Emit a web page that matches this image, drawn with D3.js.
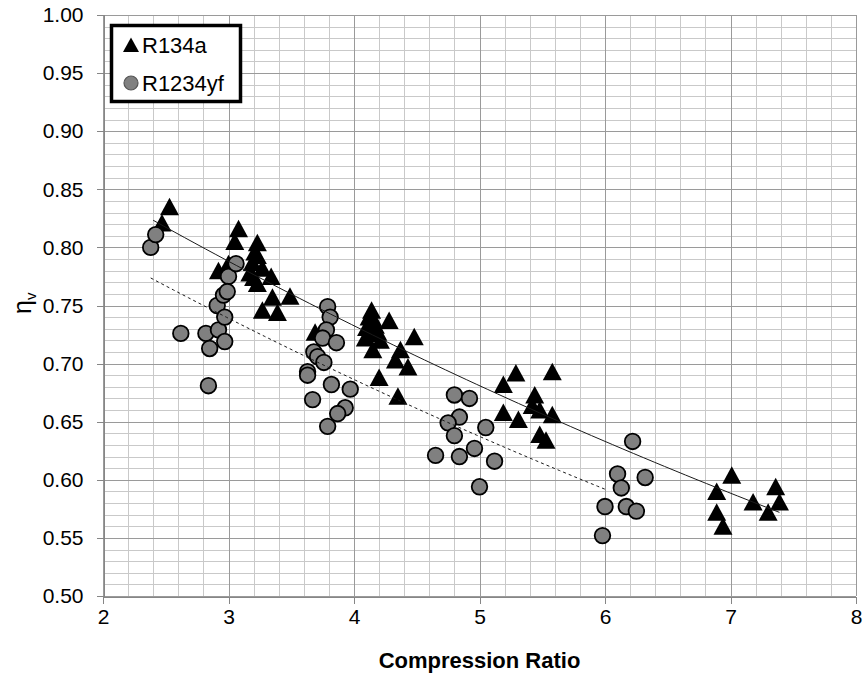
<!DOCTYPE html>
<html>
<head>
<meta charset="utf-8">
<script src="https://cdn.jsdelivr.net/npm/d3@7"></script>
<style>
  body { margin: 0; background: #fff; }
  text { font-family: "Liberation Sans", Arial, sans-serif; fill: #000; }
</style>
</head>
<body>
<svg id="chart" width="867" height="676"></svg>
<script>
// Axis ticks
const xTicks = [2, 3, 4, 5, 6, 7, 8];
const yTicks = [0.50, 0.55, 0.60, 0.65, 0.70, 0.75, 0.80, 0.85, 0.90, 0.95, 1.00];

// Series names
const seriesNames = ["R134a", "R1234yf"];

// R134a: compression ratio vs volumetric efficiency
const r134aX = [2.47, 2.53, 2.92, 3.00, 3.05, 3.08, 3.17, 3.19, 3.21, 3.23, 3.23, 3.20, 3.23, 3.27, 3.34,
  3.35, 3.49, 3.27, 3.39, 3.69, 4.14, 4.12, 4.15, 4.28, 4.10, 4.17, 4.19, 4.09, 4.13, 4.21,
  4.15, 4.37, 4.33, 4.43, 4.20, 4.35, 4.48, 5.19, 5.29, 5.58, 5.44, 5.42, 5.48, 5.58, 5.19,
  5.31, 5.48, 5.53, 7.01, 6.89, 7.36, 7.39, 7.18, 7.30, 6.89, 6.94];
const r134aY = [0.821, 0.835, 0.780, 0.786, 0.805, 0.816, 0.778, 0.787, 0.796, 0.804, 0.793, 0.774, 0.769, 0.782, 0.775,
  0.757, 0.758, 0.746, 0.744, 0.727, 0.746, 0.740, 0.739, 0.737, 0.731, 0.733, 0.727, 0.722, 0.726, 0.720,
  0.712, 0.712, 0.703, 0.697, 0.688, 0.672, 0.723, 0.682, 0.692, 0.693, 0.673, 0.664, 0.660, 0.656, 0.658,
  0.652, 0.639, 0.634, 0.604, 0.590, 0.594, 0.581, 0.581, 0.572, 0.572, 0.560];

// R1234yf: compression ratio vs volumetric efficiency
const r1234yfX = [2.38, 2.42, 2.62, 2.82, 2.85, 2.84, 2.91, 2.92, 2.96, 2.97, 2.97, 3.00, 3.06, 2.99,
  3.79, 3.81, 3.78, 3.75, 3.86, 3.68, 3.71, 3.76, 3.63, 3.63, 3.82, 3.97, 3.67, 3.93, 3.87, 3.79,
  4.80, 4.92, 4.84, 4.75, 4.80, 5.05, 4.65, 4.84, 4.96, 5.12, 5.00,
  6.22, 6.10, 6.32, 6.13, 6.00, 6.17, 6.25, 5.98];
const r1234yfY = [0.800, 0.811, 0.726, 0.726, 0.713, 0.681, 0.750, 0.729, 0.759, 0.740, 0.719, 0.775, 0.786, 0.762,
  0.749, 0.740, 0.729, 0.722, 0.718, 0.710, 0.706, 0.701, 0.693, 0.690, 0.682, 0.678, 0.669, 0.662, 0.657, 0.646,
  0.673, 0.670, 0.654, 0.649, 0.638, 0.645, 0.621, 0.620, 0.627, 0.616, 0.594,
  0.633, 0.605, 0.602, 0.593, 0.577, 0.577, 0.573, 0.552];

// Exponential trend lines y = a * exp(b * x)
const trendA = [0.981, 0.9227];
const trendB = [-0.073, -0.074];
const trendFrom = [2.40, 2.38];
const trendTo = [7.39, 6.00];

const svg = d3.select("#chart");
const x = d3.scaleLinear().domain([2, 8]).range([103, 856]);
const y = d3.scaleLinear().domain([0.5, 1.0]).range([596, 15]);

// Grid: minor lines
const minorX = d3.range(2, 8.0001, 0.2);
const minorY = d3.range(0.5, 1.00001, 0.01);
const grid = svg.append("g").attr("shape-rendering", "crispEdges");
grid.selectAll("line.mx").data(minorX).join("line")
  .attr("x1", d => Math.round(x(d)) + 0.5).attr("x2", d => Math.round(x(d)) + 0.5)
  .attr("y1", y(0.5)).attr("y2", y(1.0))
  .attr("stroke", "#c9c9c9").attr("stroke-width", 1);
grid.selectAll("line.my").data(minorY).join("line")
  .attr("y1", d => Math.round(y(d)) + 0.5).attr("y2", d => Math.round(y(d)) + 0.5)
  .attr("x1", x(2)).attr("x2", x(8))
  .attr("stroke", "#c9c9c9").attr("stroke-width", 1);
// Grid: major lines
grid.selectAll("line.MX").data(xTicks).join("line")
  .attr("x1", d => Math.round(x(d)) + 0.5).attr("x2", d => Math.round(x(d)) + 0.5)
  .attr("y1", y(0.5)).attr("y2", y(1.0))
  .attr("stroke", "#9a9a9a").attr("stroke-width", 1);
grid.selectAll("line.MY").data(yTicks).join("line")
  .attr("y1", d => Math.round(y(d)) + 0.5).attr("y2", d => Math.round(y(d)) + 0.5)
  .attr("x1", x(2)).attr("x2", x(8))
  .attr("stroke", "#9a9a9a").attr("stroke-width", 1);

// Axes
const xAxis = svg.append("g")
  .attr("transform", `translate(0,${Math.round(y(0.5)) + 0.5})`)
  .call(d3.axisBottom(x).tickValues(xTicks).tickFormat(d3.format("d")).tickSize(7).tickPadding(6));
const yAxis = svg.append("g")
  .attr("transform", `translate(${Math.round(x(2)) + 0.5},0)`)
  .call(d3.axisLeft(y).tickValues(yTicks).tickFormat(d3.format(".2f")).tickSize(7).tickPadding(13));
[xAxis, yAxis].forEach(g => {
  g.select(".domain").attr("stroke", "#868686").attr("shape-rendering", "crispEdges");
  g.selectAll(".tick line").attr("stroke", "#868686").attr("shape-rendering", "crispEdges");
  g.selectAll(".tick text").attr("font-size", 21).attr("font-family", "Liberation Sans, Arial, sans-serif").attr("fill", "#000");
});

// Markers
const triPath = "M0,-9L9.5,8.5L-9.5,8.5Z";
svg.append("g").selectAll("path").data(r134aX.map((d, i) => [d, r134aY[i]])).join("path")
  .attr("d", triPath)
  .attr("transform", d => `translate(${x(d[0])},${y(d[1])})`)
  .attr("fill", "#000");

svg.append("g").selectAll("circle").data(r1234yfX.map((d, i) => [d, r1234yfY[i]])).join("circle")
  .attr("cx", d => x(d[0])).attr("cy", d => y(d[1])).attr("r", 7.8)
  .attr("fill", "#808080").attr("stroke", "#000").attr("stroke-width", 1.8);

// Trend lines
const trendLine = d3.line().x(d => x(d[0])).y(d => y(d[1]));
trendA.forEach((a, i) => {
  const pts = d3.range(0, 61).map(k => {
    const xv = trendFrom[i] + (trendTo[i] - trendFrom[i]) * k / 60;
    return [xv, a * Math.exp(trendB[i] * xv)];
  });
  svg.append("path").attr("d", trendLine(pts))
    .attr("fill", "none").attr("stroke", "#1a1a1a").attr("stroke-width", 1)
    .attr("stroke-dasharray", i === 1 ? "3,3" : null);
});

// Axis titles
svg.append("text").attr("x", (x(2) + x(8)) / 2).attr("y", 668)
  .attr("text-anchor", "middle").attr("font-size", 22).attr("font-weight", "bold")
  .text("Compression Ratio");
const yt = svg.append("text").attr("transform", "translate(31,314) rotate(-90)")
  .attr("text-anchor", "start").attr("font-size", 25);
yt.append("tspan").text("η");
yt.append("tspan").attr("font-size", 15).attr("dy", 5).text("v");

// Legend
const lg = svg.append("g");
lg.append("rect").attr("x", 111.5).attr("y", 25.5).attr("width", 129).attr("height", 76)
  .attr("fill", "#fff").attr("stroke", "#000").attr("stroke-width", 3.5);
lg.append("path").attr("d", "M0,-7.5L8,7L-8,7Z").attr("transform", "translate(131,45)").attr("fill", "#000");
lg.append("text").attr("x", 142).attr("y", 52.5).attr("font-size", 22).text(seriesNames[0]);
lg.append("circle").attr("cx", 131).attr("cy", 83).attr("r", 7).attr("fill", "#808080")
  .attr("stroke", "#555").attr("stroke-width", 1.2);
lg.append("text").attr("x", 142).attr("y", 90.5).attr("font-size", 22).text(seriesNames[1]);
</script>
</body>
</html>
